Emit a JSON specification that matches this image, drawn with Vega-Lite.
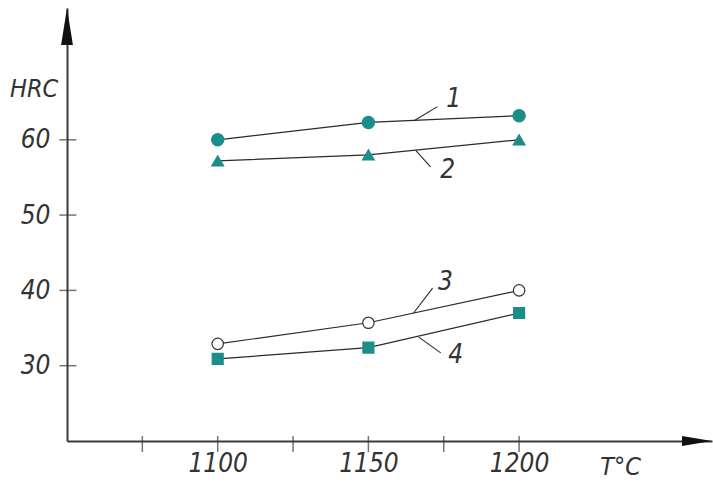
{
  "$schema": "https://vega.github.io/schema/vega-lite/v6.json",
  "width": 645,
  "height": 433,
  "autosize": {"type": "none"},
  "padding": {"left": 67, "top": 8, "right": 1, "bottom": 43},
  "background": "white",
  "config": {"view": {"stroke": null}},
  "datasets": {
    "pts": [
      {"T": 1100, "H": 60.0, "s": "1"},
      {"T": 1150, "H": 62.3, "s": "1"},
      {"T": 1200, "H": 63.2, "s": "1"},
      {"T": 1100, "H": 57.2, "s": "2"},
      {"T": 1150, "H": 58.0, "s": "2"},
      {"T": 1200, "H": 60.0, "s": "2"},
      {"T": 1100, "H": 32.9, "s": "3"},
      {"T": 1150, "H": 35.7, "s": "3"},
      {"T": 1200, "H": 40.0, "s": "3"},
      {"T": 1100, "H": 30.9, "s": "4"},
      {"T": 1150, "H": 32.4, "s": "4"},
      {"T": 1200, "H": 37.0, "s": "4"}
    ],
    "labels": [
      {"n": "1", "tx": 1178.3, "ty": 65.4, "ax": 1165.0, "ay": 62.5, "bx": 1172.9, "by": 64.4},
      {"n": "2", "tx": 1176.3, "ty": 56.0, "ax": 1165.7, "ay": 58.6, "bx": 1170.6, "by": 56.4},
      {"n": "3", "tx": 1175.6, "ty": 41.1, "ax": 1165.0, "ay": 37.0, "bx": 1171.3, "by": 40.3},
      {"n": "4", "tx": 1179.0, "ty": 31.4, "ax": 1166.7, "ay": 33.8, "bx": 1174.0, "by": 31.7}
    ],
    "xticks": [{"T": 1075}, {"T": 1100}, {"T": 1125}, {"T": 1150}, {"T": 1175}, {"T": 1200}],
    "yticks": [{"H": 30}, {"H": 40}, {"H": 50}, {"H": 60}],
    "titles": [
      {"txt": "HRC", "x": 1039.1, "y": 66.7},
      {"txt": "T°C", "x": 1233.7, "y": 16.5}
    ],
    "xarrow": [{"x": 1264, "y": 20}],
    "yarrow": [{"x": 1050, "y": 77.5}]
  },
  "layer": [
    {
      "data": {"name": "pts"},
      "mark": {"type": "line", "color": "#2a2a2a", "strokeWidth": 1.2},
      "encoding": {
        "x": {
          "field": "T", "type": "quantitative",
          "scale": {"domain": [1050, 1264], "nice": false, "zero": false},
          "axis": {
            "title": null, "values": [1100, 1150, 1200], "format": "d", "ticks": false, "grid": false,
            "domainColor": "#3a3a3a", "domainWidth": 2,
            "labelFont": "DejaVu Sans Condensed, Roboto", "labelFontStyle": "italic",
            "labelFontSize": 26, "labelColor": "#333", "labelPadding": 9,
            "labelFontWeight": "normal"
          }
        },
        "y": {
          "field": "H", "type": "quantitative",
          "scale": {"domain": [20, 77.5], "nice": false, "zero": false},
          "axis": {
            "title": null, "values": [30, 40, 50, 60], "format": "d", "ticks": false, "grid": false,
            "domainColor": "#3a3a3a", "domainWidth": 2,
            "labelFont": "DejaVu Sans Condensed, Roboto", "labelFontStyle": "italic",
            "labelFontSize": 26, "labelColor": "#333", "labelPadding": 17,
            "labelFontWeight": "normal"
          }
        },
        "detail": {"field": "s"}
      }
    },
    {
      "data": {"name": "pts"},
      "mark": {"type": "point", "filled": false, "opacity": 1, "strokeWidth": 1.2},
      "encoding": {
        "x": {"field": "T", "type": "quantitative"},
        "y": {"field": "H", "type": "quantitative"},
        "shape": {"field": "s", "type": "nominal", "legend": null,
          "scale": {"domain": ["1", "2", "3", "4"], "range": ["circle", "triangle-up", "circle", "square"]}},
        "size": {"field": "s", "type": "nominal", "legend": null,
          "scale": {"domain": ["1", "2", "3", "4"], "range": [150, 120, 22, 160]}},
        "fill": {"field": "s", "type": "nominal", "legend": null,
          "scale": {"domain": ["1", "2", "3", "4"], "range": ["#1b8e8a", "#1b8e8a", "#ffffff", "#1b8e8a"]}},
        "stroke": {"field": "s", "type": "nominal", "legend": null,
          "scale": {"domain": ["1", "2", "3", "4"], "range": ["#1b8e8a", "#1b8e8a", "#333333", "#1b8e8a"]}}
      }
    },
    {
      "data": {"name": "xticks"},
      "mark": {"type": "tick", "orient": "vertical", "size": 16, "thickness": 1.5, "color": "#3a3a3a"},
      "encoding": {
        "x": {"field": "T", "type": "quantitative"},
        "y": {"datum": 19.6, "type": "quantitative"}
      }
    },
    {
      "data": {"name": "yticks"},
      "mark": {"type": "tick", "orient": "horizontal", "size": 17, "thickness": 1.5, "color": "#3a3a3a"},
      "encoding": {
        "x": {"datum": 1050.3, "type": "quantitative"},
        "y": {"field": "H", "type": "quantitative"}
      }
    },
    {
      "data": {"name": "labels"},
      "mark": {"type": "rule", "color": "#2a2a2a", "strokeWidth": 1.1},
      "encoding": {
        "x": {"field": "ax", "type": "quantitative"},
        "y": {"field": "ay", "type": "quantitative"},
        "x2": {"field": "bx"},
        "y2": {"field": "by"}
      }
    },
    {
      "data": {"name": "labels"},
      "mark": {"type": "text", "font": "DejaVu Sans Condensed, Roboto", "fontStyle": "italic", "fontSize": 26, "color": "#333", "align": "center", "baseline": "middle"},
      "encoding": {
        "x": {"field": "tx", "type": "quantitative"},
        "y": {"field": "ty", "type": "quantitative"},
        "text": {"field": "n"}
      }
    },
    {
      "data": {"name": "titles"},
      "mark": {"type": "text", "font": "DejaVu Sans Condensed, Roboto", "fontStyle": "italic", "fontSize": 25, "color": "#333", "align": "center", "baseline": "middle"},
      "encoding": {
        "x": {"field": "x", "type": "quantitative"},
        "y": {"field": "y", "type": "quantitative"},
        "text": {"field": "txt"}
      }
    },
    {
      "data": {"name": "xarrow"},
      "mark": {"type": "point", "filled": true, "color": "#111", "opacity": 1, "size": 900, "shape": "M0,0L-2,-0.33L-2,0.33Z"},
      "encoding": {
        "x": {"field": "x", "type": "quantitative"},
        "y": {"field": "y", "type": "quantitative"}
      }
    },
    {
      "data": {"name": "yarrow"},
      "mark": {"type": "point", "filled": true, "color": "#111", "opacity": 1, "size": 1369, "shape": "M0,0L-0.32,2L0.32,2Z"},
      "encoding": {
        "x": {"field": "x", "type": "quantitative"},
        "y": {"field": "y", "type": "quantitative"}
      }
    }
  ]
}
